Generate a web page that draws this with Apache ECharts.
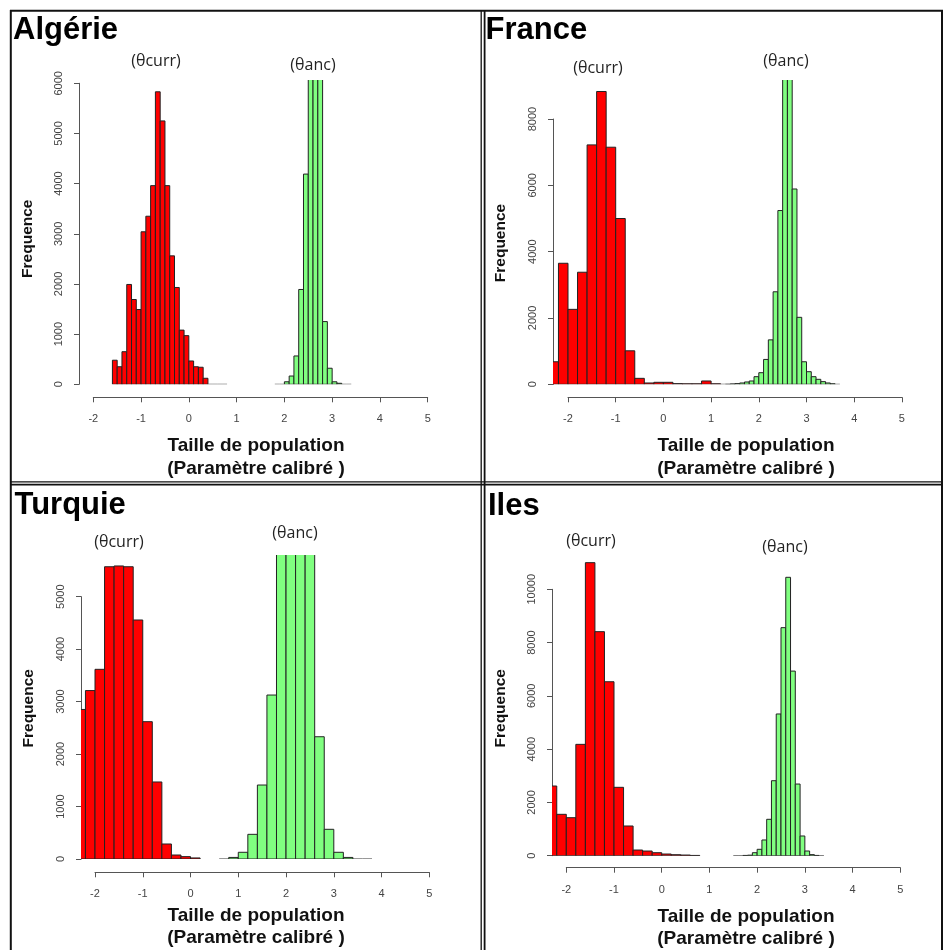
<!DOCTYPE html>
<html><head><meta charset="utf-8">
<script src="https://cdn.jsdelivr.net/npm/echarts@6/dist/echarts.min.js"></script>
<style>html,body{margin:0;padding:0;background:#fff}#c{width:944px;height:950px}</style>
</head><body><div id="c"></div>
<script>
// ================= DATA =================
const panelNames = ['Algérie', 'France', 'Turquie', 'Iles'];
const xTickMin = -2, xTickMax = 5, xTickStep = 1;
const currLabel = '(θcurr)', ancLabel = '(θanc)';
const yAxisTitle = 'Frequence';
const xAxisTitle1 = 'Taille de population';
const xAxisTitle2 = '(Paramètre calibré )';

// Algérie
const algYTicks = [0, 1000, 2000, 3000, 4000, 5000, 6000];
const algCurrStart = -1.6, algCurrWidth = 0.1;
const algCurrCounts = [480, 350, 650, 1990, 1690, 1490, 3040, 3350, 3960, 5830, 5250, 3960, 2560, 1930, 1080, 970, 465, 350, 340, 120, 0, 0, 0, 0];
const algAncStart = 1.8, algAncWidth = 0.1;
const algAncCounts = [0, 0, 50, 165, 565, 1890, 4190, 6200, 6200, 6200, 1250, 320, 50, 20, 0, 0];

// France
const fraYTicks = [0, 2000, 4000, 6000, 8000];
const fraCurrStart = -2.4, fraCurrWidth = 0.2;
const fraCurrCounts = [680, 3650, 2260, 3380, 7220, 8830, 7150, 5000, 1010, 180, 40, 60, 60, 20, 15, 15, 100, 15, 0];
const fraAncStart = 1.3, fraAncWidth = 0.1;
const fraAncCounts = [0, 10, 20, 40, 70, 100, 230, 350, 750, 1340, 2790, 5240, 9400, 9400, 5890, 2020, 680, 380, 230, 150, 80, 40, 15, 0];

// Turquie
const turYTicks = [0, 1000, 2000, 3000, 4000, 5000];
const turCurrStart = -2.4, turCurrWidth = 0.2;
const turCurrCounts = [2850, 3210, 3615, 5570, 5585, 5570, 4555, 2617, 1468, 286, 76, 45, 20];
const turAncStart = 0.6, turAncWidth = 0.2;
const turAncCounts = [0, 30, 128, 470, 1410, 3125, 6000, 6000, 6000, 6000, 2330, 566, 128, 30, 0, 0];

// Iles
const ileYTicks = [0, 2000, 4000, 6000, 8000, 10000];
const ileCurrStart = -2.4, ileCurrWidth = 0.2;
const ileCurrCounts = [2616, 1553, 1427, 4180, 11000, 8410, 6530, 2567, 1115, 213, 175, 113, 63, 38, 25, 10];
const ileAncStart = 1.5, ileAncWidth = 0.1;
const ileAncCounts = [0, 0, 10, 20, 113, 240, 590, 1366, 2815, 5320, 8560, 10450, 6930, 2690, 740, 176, 40, 10, 0];

// ================= LAYOUT (pixels) =================
const layout = [
  {x0: 93.3, u: 47.77, axisX: 79, y0: 384.3, ppk: 50.17, top: 80, axisY: 397.3, xm: 16,
   title: [13, 30], curr: [156, 61], anc: [313, 65], freq: [27.5, 238.7], xName: [256, 446, 469]},
  {x0: 568, u: 47.7, axisX: 553, y0: 384.3, ppk: 33.16, top: 80, axisY: 397.3, xm: 16.5,
   title: [485.5, 30.7], curr: [598, 68], anc: [786, 61], freq: [500.5, 243], xName: [746, 446, 469]},
  {x0: 95, u: 47.76, axisX: 81, y0: 859, ppk: 52.47, top: 555, axisY: 872.3, xm: 16,
   title: [14.5, 505], curr: [119, 542], anc: [295, 533], freq: [29, 708.3], xName: [256, 916, 938]},
  {x0: 566.3, u: 47.71, axisX: 552, y0: 855.7, ppk: 26.64, top: 555, axisY: 867.7, xm: 17,
   title: [488, 506], curr: [591, 541], anc: [785, 547], freq: [501, 708.3], xName: [746, 916.7, 939]}
];

const panelData = [
  {yTicks: algYTicks, curr: [algCurrStart, algCurrWidth, algCurrCounts], anc: [algAncStart, algAncWidth, algAncCounts]},
  {yTicks: fraYTicks, curr: [fraCurrStart, fraCurrWidth, fraCurrCounts], anc: [fraAncStart, fraAncWidth, fraAncCounts]},
  {yTicks: turYTicks, curr: [turCurrStart, turCurrWidth, turCurrCounts], anc: [turAncStart, turAncWidth, turAncCounts]},
  {yTicks: ileYTicks, curr: [ileCurrStart, ileCurrWidth, ileCurrCounts], anc: [ileAncStart, ileAncWidth, ileAncCounts]}
];

function bins(spec) {
  const [start, w, counts] = spec;
  return counts.map((c, i) => [+(start + i * w).toFixed(3), +(start + (i + 1) * w).toFixed(3), c]);
}

function makeRender(fill) {
  return function (params, api) {
    const a = api.value(0), b = api.value(1), v = api.value(2);
    const p0 = api.coord([a, v]);
    const p1 = api.coord([b, 0]);
    if (v === 0) {
      return {type: 'line', shape: {x1: p0[0], y1: p1[1], x2: p1[0], y2: p1[1]},
              style: {stroke: '#333', lineWidth: 1}};
    }
    return {type: 'rect', shape: {x: p0[0], y: p0[1], width: p1[0] - p0[0], height: p1[1] - p0[1]},
            style: {fill: fill, stroke: '#222', lineWidth: 1}};
  };
}

const FONT = 'Liberation Sans, Arial, sans-serif';
const AX = '#555';
const grids = [], xAxes = [], yAxes = [], series = [], graphics = [];

layout.forEach((L, i) => {
  const D = panelData[i];
  const xPlotMin = xTickMin + (L.axisX - L.x0) / L.u;
  const xPlotMax = 5.4;
  const yMaxTick = D.yTicks[D.yTicks.length - 1];
  const yStep = D.yTicks[1] - D.yTicks[0];
  const gA = grids.length;
  // plot region grid
  grids.push({left: L.axisX, top: L.top, width: (xPlotMax - xPlotMin) * L.u, height: L.y0 - L.top});
  xAxes.push({type: 'value', gridIndex: gA, min: xPlotMin, max: xPlotMax, show: false});
  yAxes.push({type: 'value', gridIndex: gA, min: 0, max: (L.y0 - L.top) / L.ppk * 1000, show: false});
  // y axis grid
  const hB = yMaxTick * L.ppk / 1000;
  grids.push({left: L.axisX, top: L.y0 - hB, width: 10, height: hB});
  xAxes.push({type: 'value', gridIndex: gA + 1, show: false, min: 0, max: 1});
  yAxes.push({type: 'value', gridIndex: gA + 1, min: 0, max: yMaxTick, interval: yStep,
    axisLine: {show: true, lineStyle: {color: AX, width: 1}},
    axisTick: {show: true, length: 5, lineStyle: {color: AX}},
    axisLabel: {rotate: 90, margin: 15, color: '#444', fontSize: 11, fontFamily: FONT,
      formatter: v => String(v)},
    splitLine: {show: false}});
  // x axis grid
  grids.push({left: L.x0, top: L.axisY - 10, width: (xTickMax - xTickMin) * L.u, height: 10});
  xAxes.push({type: 'value', gridIndex: gA + 2, min: xTickMin, max: xTickMax, interval: xTickStep, position: 'bottom',
    axisLine: {show: true, onZero: false, lineStyle: {color: AX, width: 1}},
    axisTick: {show: true, length: 5, lineStyle: {color: AX}},
    axisLabel: {margin: L.xm, color: '#444', fontSize: 11, fontFamily: FONT, formatter: v => String(v)},
    splitLine: {show: false}});
  yAxes.push({type: 'value', gridIndex: gA + 2, show: false, min: 0, max: 1});

  series.push({type: 'custom', name: currLabel, xAxisIndex: gA, yAxisIndex: gA, clip: true,
    encode: {x: [0, 1], y: 2}, data: bins(D.curr), renderItem: makeRender('#ff0000'), silent: true});
  series.push({type: 'custom', name: ancLabel, xAxisIndex: gA, yAxisIndex: gA, clip: true,
    encode: {x: [0, 1], y: 2}, data: bins(D.anc), renderItem: makeRender('#80ff80'), silent: true});

  // texts
  graphics.push({type: 'text', x: L.title[0], y: L.title[1],
    style: {text: panelNames[i], font: 'bold 31px ' + FONT, fill: '#000', textAlign: 'left', textVerticalAlign: 'middle', align: 'left', verticalAlign: 'middle'}});
  graphics.push({type: 'text', x: L.curr[0], y: L.curr[1],
    style: {text: currLabel, font: '16px Open Sans, sans-serif', fill: '#222', textAlign: 'center', textVerticalAlign: 'middle', align: 'center', verticalAlign: 'middle'}});
  graphics.push({type: 'text', x: L.anc[0], y: L.anc[1],
    style: {text: ancLabel, font: '16px Open Sans, sans-serif', fill: '#222', textAlign: 'center', textVerticalAlign: 'middle', align: 'center', verticalAlign: 'middle'}});
  graphics.push({type: 'text', x: L.freq[0], y: L.freq[1], rotation: Math.PI / 2,
    style: {text: yAxisTitle, font: 'bold 15.5px ' + FONT, fill: '#111', textAlign: 'center', textVerticalAlign: 'middle', align: 'center', verticalAlign: 'middle'}});
  graphics.push({type: 'text', x: L.xName[0], y: L.xName[1],
    style: {text: xAxisTitle1, font: 'bold 19px ' + FONT, fill: '#111', textAlign: 'center', textVerticalAlign: 'middle', align: 'center', verticalAlign: 'middle'}});
  graphics.push({type: 'text', x: L.xName[0], y: L.xName[2],
    style: {text: xAxisTitle2, font: 'bold 19px ' + FONT, fill: '#111', textAlign: 'center', textVerticalAlign: 'middle', align: 'center', verticalAlign: 'middle'}});
});

// frame lines
const frame = [
  [10, 10.8, 943, 10.8, 2],
  [10.8, 10, 10.8, 950, 2],
  [942, 10, 942, 950, 2],
  [481.2, 10, 481.2, 950, 1.3],
  [484.6, 10, 484.6, 950, 1.8],
  [10, 481.8, 943, 481.8, 1.3],
  [10, 484.6, 943, 484.6, 1.8]
];
frame.forEach(f => graphics.push({type: 'line', shape: {x1: f[0], y1: f[1], x2: f[2], y2: f[3]},
  style: {stroke: '#111', lineWidth: f[4]}, z: 100}));

const chart = echarts.init(document.getElementById('c'), null, {renderer: 'canvas'});
chart.setOption({
  animation: false,
  backgroundColor: '#fff',
  textStyle: {fontFamily: FONT},
  grid: grids, xAxis: xAxes, yAxis: yAxes, series: series, graphic: graphics
});
</script></body></html>
